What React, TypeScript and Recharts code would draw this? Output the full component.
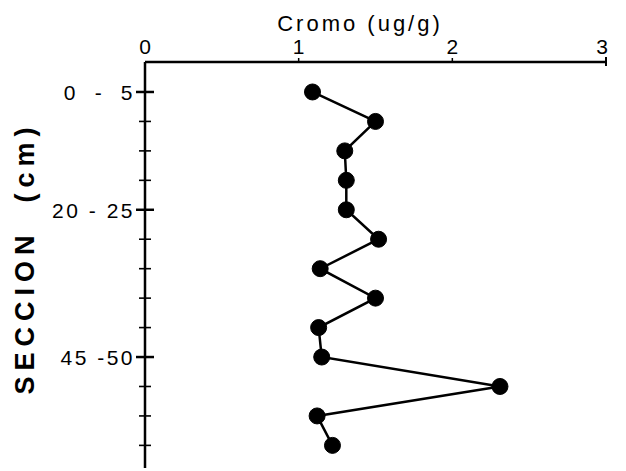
import { LineChart, Line, XAxis, YAxis } from 'recharts';

// Secciones del núcleo (cm) y contenido de cromo (ug/g)
const secciones = ['0-5', '5-10', '10-15', '15-20', '20-25', '25-30', '30-35', '35-40', '40-45', '45-50', '50-55', '55-60', '60-65'];
const profundidad = [2.5, 7.5, 12.5, 17.5, 22.5, 27.5, 32.5, 37.5, 42.5, 47.5, 52.5, 57.5, 62.5];
const cromo = [1.09, 1.5, 1.3, 1.31, 1.31, 1.52, 1.14, 1.5, 1.13, 1.15, 2.31, 1.12, 1.22];

const xTicks = [0, 1, 2, 3];
const etiquetas: Record<number, string> = { 2.5: '0  -  5', 22.5: '20 - 25', 47.5: '45 -50' };

const data = secciones.map((s, i) => ({ seccion: s, prof: profundidad[i], cromo: cromo[i] }));

const FONT = '"Liberation Sans", Arial, sans-serif';

function XTick(props: any) {
  const { x, y, payload } = props;
  const v = payload.value;
  return (
    <g>
      {v === 3 && <line x1={x} x2={x} y1={y - 5} y2={y + 4} stroke="#000" strokeWidth={2} />}
      {(v === 1 || v === 2) && <line x1={x} x2={x} y1={y - 4} y2={y} stroke="#000" strokeWidth={1.5} />}
      <text x={v === 3 ? x - 4 : x} y={y - 8} textAnchor="middle" fontSize={21} fontFamily={FONT} fill="#000">
        {v}
      </text>
    </g>
  );
}

function YTick(props: any) {
  const { x, y, payload } = props;
  const label = etiquetas[payload.value];
  const major = label !== undefined;
  return (
    <g>
      <line x1={x - (major ? 9 : 6)} x2={x + (major ? 9 : 6)} y1={y} y2={y} stroke="#000" strokeWidth={major ? 2.5 : 1.6} />
      {major && (
        <text
          x={x - 10}
          y={y + 8}
          textAnchor="end"
          fontSize={21}
          fontFamily={FONT}
          letterSpacing={2.5}
          fill="#000"
          style={{ whiteSpace: 'pre' }}
        >
          {label}
        </text>
      )}
    </g>
  );
}

export default function App() {
  return (
    <div style={{ position: 'absolute', left: 0, top: 0, background: '#fff' }}>
      <LineChart
        width={626}
        height={471}
        data={data}
        layout="vertical"
        margin={{ top: 32, left: 45, right: 20, bottom: 3 }}
      >
        <XAxis
          type="number"
          dataKey="cromo"
          orientation="top"
          domain={[0, 3]}
          ticks={xTicks}
          height={30}
          tickSize={0}
          tickMargin={0}
          tickLine={false}
          tick={<XTick />}
          axisLine={{ stroke: '#000', strokeWidth: 2.5 }}
          label={{
            content: () => (
              <text x={360} y={31} textAnchor="middle" fontSize={22} fontFamily={FONT} letterSpacing={3} fill="#000">
                Cromo (ug/g)
              </text>
            ),
          }}
        />
        <YAxis
          type="number"
          dataKey="prof"
          domain={[-2.59, 66.34]}
          ticks={profundidad}
          interval={0}
          allowDataOverflow
          width={100}
          tickSize={0}
          tickMargin={0}
          tickLine={false}
          tick={<YTick />}
          axisLine={{ stroke: '#000', strokeWidth: 2.5 }}
          label={{
            content: () => (
              <text
                x={34}
                y={258}
                transform="rotate(-90 34 258)"
                textAnchor="middle"
                fontSize={27}
                fontWeight="bold"
                fontFamily={FONT}
                letterSpacing={6}
                fill="#000"
                style={{ whiteSpace: 'pre' }}
              >
                SECCION  (cm)
              </text>
            ),
          }}
        />
        <Line
          dataKey="cromo"
          stroke="#000"
          strokeWidth={2.5}
          dot={{ r: 8, fill: '#000', stroke: '#000', strokeWidth: 1 }}
          isAnimationActive={false}
        />
      </LineChart>
    </div>
  );
}
